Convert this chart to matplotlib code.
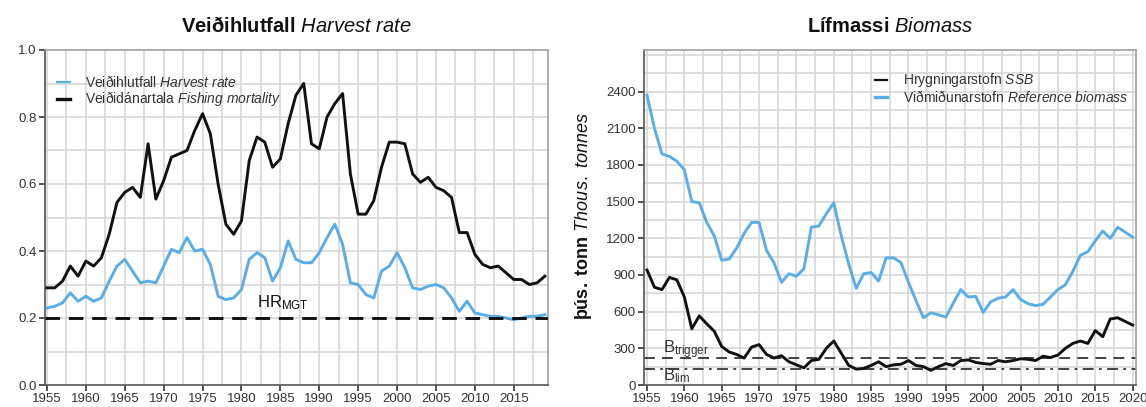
import matplotlib
matplotlib.use("Agg")
import matplotlib.pyplot as plt
import numpy as np

# ---------------- data ----------------
years_hr = list(range(1955, 2020))
fishing_mortality = [0.29, 0.29, 0.31, 0.355, 0.325, 0.37, 0.355, 0.38, 0.45, 0.545,
                     0.575, 0.59, 0.56, 0.72, 0.555, 0.61, 0.68, 0.69, 0.70, 0.76,
                     0.81, 0.75, 0.60, 0.48, 0.45, 0.49, 0.67, 0.74, 0.725, 0.65,
                     0.675, 0.78, 0.865, 0.90, 0.72, 0.705, 0.80, 0.84, 0.87, 0.63,
                     0.51, 0.51, 0.55, 0.65, 0.725, 0.725, 0.72, 0.63, 0.605, 0.62,
                     0.59, 0.58, 0.56, 0.455, 0.455, 0.39, 0.36, 0.35, 0.355, 0.335,
                     0.315, 0.315, 0.30, 0.305, 0.325]
harvest_rate = [0.23, 0.235, 0.245, 0.275, 0.25, 0.265, 0.25, 0.26, 0.31, 0.355,
                0.375, 0.34, 0.305, 0.31, 0.305, 0.355, 0.405, 0.395, 0.44, 0.40,
                0.405, 0.36, 0.265, 0.255, 0.26, 0.285, 0.375, 0.395, 0.38, 0.31,
                0.35, 0.43, 0.375, 0.365, 0.365, 0.395, 0.44, 0.48, 0.42, 0.305,
                0.30, 0.27, 0.26, 0.34, 0.355, 0.395, 0.35, 0.29, 0.285, 0.295,
                0.30, 0.29, 0.26, 0.22, 0.25, 0.215, 0.21, 0.205, 0.205, 0.20,
                0.195, 0.20, 0.205, 0.205, 0.21]
hr_mgt = 0.2

years_bio = list(range(1955, 2021))
ref_biomass = [2370, 2100, 1890, 1870, 1830, 1760, 1500, 1490, 1330, 1220,
               1020, 1030, 1120, 1240, 1330, 1330, 1100, 1000, 840, 910,
               890, 950, 1290, 1300, 1400, 1490, 1220, 990, 790, 910,
               920, 850, 1040, 1040, 1000, 840, 690, 550, 590, 575,
               555, 670, 780, 720, 725, 595, 680, 710, 720, 780,
               700, 665, 650, 660, 720, 780, 820, 930, 1060, 1090,
               1180, 1260, 1200, 1290, 1250, 1210]
ssb = [940, 800, 780, 880, 860, 720, 460, 565, 500, 440,
       315, 270, 250, 220, 310, 330, 250, 220, 240, 190,
       165, 140, 200, 210, 300, 360, 260, 160, 130, 135,
       160, 190, 150, 165, 170, 200, 160, 150, 120, 150,
       175, 160, 200, 205, 185, 175, 170, 200, 190, 200,
       215, 210, 200, 235, 225, 245, 300, 340, 360, 340,
       445, 395, 540, 550, 520, 490]
b_trigger = 220
b_lim = 130

# ---------------- style ----------------
plt.rcParams['font.family'] = ['Liberation Sans', 'DejaVu Sans']
plt.rcParams['mathtext.fontset'] = 'custom'
plt.rcParams['mathtext.rm'] = 'Liberation Sans'
plt.rcParams['mathtext.it'] = 'Liberation Sans:italic'
plt.rcParams['mathtext.bf'] = 'Liberation Sans:bold'

BLUE = '#5AAEE8'
BLACK = '#111111'
GRID = '#d4d4d4'
TXT = '#333333'
LW = 2.1

W, H = 1146, 407
fig = plt.figure(figsize=(W / 100, H / 100), dpi=100)
ax1 = fig.add_axes([45 / W, 22 / H, 503 / W, 335 / H])
ax2 = fig.add_axes([644 / W, 22 / H, 492 / W, 335 / H])


def style(ax, xlim, ylim, xgrid, ygrid, xticks, yticks, ylabels):
    ax.set_xlim(*xlim)
    ax.set_ylim(*ylim)
    for x in xgrid:
        ax.axvline(x, color=GRID, lw=1.1, zorder=0)
    for y in ygrid:
        ax.axhline(y, color=GRID, lw=1.1, zorder=0)
    for s in ['top', 'right']:
        ax.spines[s].set_color('#a0a0a0')
        ax.spines[s].set_linewidth(1.2)
    for s in ['left', 'bottom']:
        ax.spines[s].set_color('#555555')
        ax.spines[s].set_linewidth(1.2)
    ax.set_xticks(xticks)
    ax.set_yticks(yticks)
    ax.set_yticklabels(ylabels)
    ax.tick_params(direction='out', length=4, width=1.2, color='#333333',
                   labelcolor=TXT, pad=2, labelsize=9.5)


# ---- left panel ----
style(ax1, (1954.75, 2019.4), (0, 1.0),
      np.arange(1955, 2019, 2.5), np.arange(0.1, 1.0, 0.1),
      list(range(1955, 2020, 5)), [0, 0.2, 0.4, 0.6, 0.8, 1.0],
      ['0.0', '0.2', '0.4', '0.6', '0.8', '1.0'])
ax1.plot(years_hr, fishing_mortality, color=BLACK, lw=LW, zorder=3)
ax1.plot(years_hr, harvest_rate, color=BLUE, lw=LW, zorder=3)
ax1.axhline(hr_mgt, color=BLACK, lw=2.1, ls=(0, (5, 3)), zorder=4)
ax1.text(1982, 0.232, r'HR$_{\mathrm{MGT}}$', fontsize=12, color=BLACK,
         va='baseline', ha='left')

# legend (left)
ax1.plot([0.023, 0.05], [0.905, 0.905], transform=ax1.transAxes, color=BLUE, lw=1.6)
ax1.plot([0.023, 0.05], [0.854, 0.854], transform=ax1.transAxes, color=BLACK, lw=2.4)
ax1.text(0.0795, 0.905, r'Veiðihlutfall $\mathit{Harvest\ rate}$', transform=ax1.transAxes,
         fontsize=10, color=TXT, va='center', ha='left')
ax1.text(0.0795, 0.854, r'Veiðidánartala $\mathit{Fishing\ mortality}$', transform=ax1.transAxes,
         fontsize=10, color=TXT, va='center', ha='left')

# ---- right panel ----
style(ax2, (1954.6, 2020.45), (0, 2740),
      np.arange(1955, 2021, 2.5), np.arange(150, 2740, 150),
      list(range(1955, 2021, 5)), list(range(0, 2401, 300)),
      [str(v) for v in range(0, 2401, 300)])
ax2.plot(years_bio, ref_biomass, color=BLUE, lw=LW, zorder=3)
ax2.plot(years_bio, ssb, color=BLACK, lw=LW, zorder=3)
ax2.axhline(b_trigger, color='#333333', lw=1.3, ls=(0, (6, 4)), zorder=2)
ax2.axhline(b_lim, color='#333333', lw=1.3, ls=(0, (6, 3, 1.5, 3)), zorder=2)
ax2.text(1957.1, 262, r'B$_{\mathrm{trigger}}$', fontsize=12, color=TXT, va='baseline')
ax2.text(1957.1, 42, r'B$_{\mathrm{lim}}$', fontsize=12, color=TXT, va='baseline')

# legend (right)
ax2.plot([0.4695, 0.494], [0.910, 0.910], transform=ax2.transAxes, color=BLACK, lw=1.6)
ax2.plot([0.4695, 0.494], [0.859, 0.859], transform=ax2.transAxes, color=BLUE, lw=2.4)
ax2.text(0.526, 0.910, r'Hrygningarstofn $\mathit{SSB}$', transform=ax2.transAxes,
         fontsize=10, color=TXT, va='center', ha='left')
ax2.text(0.526, 0.859, r'Viðmiðunarstofn $\mathit{Reference\ biomass}$', transform=ax2.transAxes,
         fontsize=10, color=TXT, va='center', ha='left')

# titles and y label
fig.text(296 / W, 1 - 26 / H, r'$\mathbf{Veiðihlutfall}$ $\mathit{Harvest\ rate}$',
         fontsize=14.5, ha='center', va='center', color=BLACK)
fig.text(890 / W, 1 - 26 / H, r'$\mathbf{Lífmassi}$ $\mathit{Biomass}$',
         fontsize=14.5, ha='center', va='center', color=BLACK)
fig.text(583 / W, 1 - 216 / H, r'$\mathbf{þús.\ tonn}$ $\mathit{Thous.\ tonnes}$',
         fontsize=13, ha='center', va='center', rotation=90, color=BLACK)

fig.savefig('out.png', dpi=100)
